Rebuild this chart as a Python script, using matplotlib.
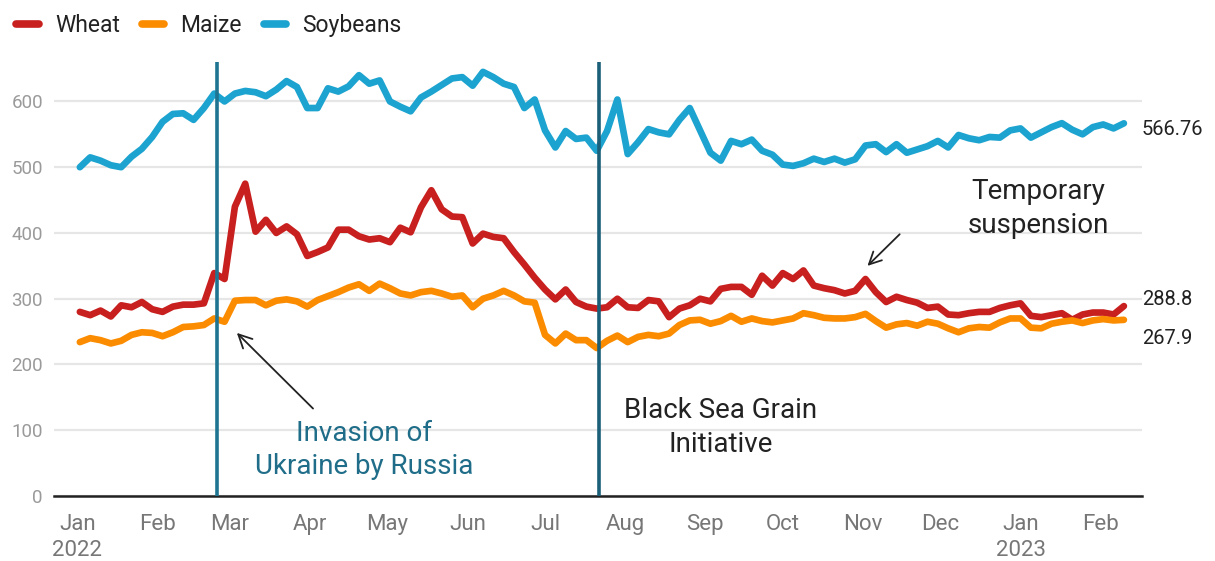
import matplotlib
matplotlib.use("Agg")
import matplotlib.pyplot as plt
import pandas as pd

plt.rcParams['font.family'] = ['Roboto', 'DejaVu Sans']

# prices sampled every 4 days, 2 Jan 2022 .. 10 Feb 2023
dates = pd.date_range('2022-01-02', '2023-02-10', freq='4D')

wheat = [280, 275, 282, 273, 290, 287, 295, 284, 280, 288,
         291, 291, 293, 339, 330, 440, 475, 402, 420, 400,
         410, 398, 365, 371, 378, 405, 405, 395, 390, 392,
         386, 408, 401, 439, 465, 436, 425, 424, 384, 399,
         394, 392, 371, 352, 332, 314, 299, 314, 295, 288,
         285, 287, 300, 287, 286, 298, 296, 272, 285, 290,
         300, 296, 315, 318, 318, 306, 335, 320, 339, 330,
         343, 320, 316, 313, 308, 312, 330, 310, 295, 303,
         298, 294, 286, 288, 276, 275, 278, 280, 280, 286,
         290, 293, 274, 272, 275, 278, 268, 276, 279, 279,
         276, 288.8]

maize = [234, 240, 237, 232, 236, 245, 249, 248, 243, 249,
         257, 258, 260, 270, 265, 297, 298, 298, 290, 297,
         299, 296, 288, 298, 304, 310, 317, 322, 312, 323,
         316, 308, 305, 310, 312, 308, 303, 305, 287, 300,
         305, 312, 305, 296, 294, 245, 232, 247, 237, 237,
         225, 236, 244, 234, 242, 245, 243, 247, 260, 267,
         268, 262, 266, 274, 265, 270, 266, 264, 267, 270,
         278, 275, 271, 270, 270, 272, 277, 266, 256, 261,
         263, 259, 265, 262, 255, 249, 255, 257, 256, 264,
         270, 270, 256, 255, 262, 265, 267, 263, 267, 269,
         267, 267.9]

soybeans = [500, 515, 510, 503, 500, 516, 528, 546, 569, 581,
            582, 572, 590, 612, 600, 612, 616, 614, 608, 618,
            631, 622, 590, 590, 620, 615, 623, 640, 627, 632,
            600, 592, 585, 606, 615, 625, 635, 637, 624, 645,
            637, 627, 622, 590, 603, 556, 530, 555, 543, 545,
            525, 555, 603, 520, 538, 558, 553, 550, 572, 590,
            556, 522, 510, 540, 535, 542, 525, 519, 504, 502,
            506, 513, 508, 513, 507, 512, 533, 535, 523, 535,
            522, 527, 532, 540, 530, 549, 544, 541, 546, 545,
            556, 559, 545, 553, 561, 567, 557, 550, 561, 565,
            559, 566.76]

series = [('Wheat', wheat, '#c81f1f'),
          ('Maize', maize, '#fb8c00'),
          ('Soybeans', soybeans, '#1ca3cf')]

month_starts = pd.date_range('2022-01-01', '2023-02-01', freq='MS')
month_labels = ['Jan\n2022', 'Feb', 'Mar', 'Apr', 'May', 'Jun', 'Jul',
                'Aug', 'Sep', 'Oct', 'Nov', 'Dec', 'Jan\n2023', 'Feb']

invasion = pd.Timestamp('2022-02-24')
grain_deal = pd.Timestamp('2022-07-22')

fig = plt.figure(figsize=(12.15, 5.61), dpi=100)
ax = fig.add_axes([54 / 1215, 65 / 561, 1088 / 1215, 434 / 561])

for name, vals, col in series:
    ax.plot(dates, vals, color=col, lw=4.8, label=name,
            solid_joinstyle='round', solid_capstyle='round', zorder=3)

ax.set_xlim(pd.Timestamp('2021-12-23'), pd.Timestamp('2023-02-17'))
ax.set_ylim(0, 660)
ax.set_yticks(range(0, 700, 100))
ax.set_xticks(month_starts)
ax.set_xticklabels(month_labels, linespacing=1.3)
ax.grid(axis='y', color='#e6e6e6', lw=1.6)
ax.set_axisbelow(True)
for s in ['top', 'right', 'left']:
    ax.spines[s].set_visible(False)
ax.spines['bottom'].set_color('#222222')
ax.spines['bottom'].set_linewidth(1.8)
ax.tick_params(axis='y', length=0, pad=8, labelsize=13.5, labelcolor='#9a9a9a')
ax.tick_params(axis='x', length=0, pad=13, labelsize=16, labelcolor='#777777')

# event markers
ax.axvline(invasion, color='#1f7591', lw=2.6, zorder=4)
ax.axvline(grain_deal, color='#1b5f78', lw=2.6, zorder=4)

ax.text(pd.Timestamp('2022-04-22'), 70, 'Invasion of\nUkraine by Russia',
        ha='center', va='center', fontsize=20, color='#1f6d88', linespacing=1.3)
ax.annotate('', xy=(pd.Timestamp('2022-03-03'), 251),
            xytext=(pd.Timestamp('2022-04-03'), 130),
            arrowprops=dict(arrowstyle='->', color='#222222', lw=1.3,
                            mutation_scale=24))

ax.text(pd.Timestamp('2022-09-07'), 104, 'Black Sea Grain\nInitiative',
        ha='center', va='center', fontsize=20, color='#222222', linespacing=1.3)

ax.text(pd.Timestamp('2023-01-08'), 437, 'Temporary\nsuspension',
        ha='center', va='center', fontsize=20, color='#222222', linespacing=1.3)
ax.annotate('', xy=(pd.Timestamp('2022-11-02'), 347),
            xytext=(pd.Timestamp('2022-11-16'), 401),
            arrowprops=dict(arrowstyle='->', color='#222222', lw=1.3,
                            mutation_scale=22))

# last values on the right
end_labels = [(soybeans[-1], 558), (wheat[-1], 299), (maize[-1], 240)]
for val, ypos in end_labels:
    ax.annotate(f'{val:g}', xy=(1, ypos), xycoords=('axes fraction', 'data'),
                xytext=(0, 0), textcoords='offset points',
                ha='left', va='center', fontsize=14.5, color='#222222')

leg = fig.legend(loc='upper left', bbox_to_anchor=(0.002, 1.0), ncol=3,
                 frameon=False, fontsize=16.5, handlelength=1.0,
                 handletextpad=0.69, columnspacing=0.95, borderaxespad=0.2)
for h in leg.get_lines():
    h.set_linewidth(5.5)
    h.set_solid_capstyle('round')
for t in leg.get_texts():
    t.set_color('#222222')

fig.savefig('out.png', dpi=100)
